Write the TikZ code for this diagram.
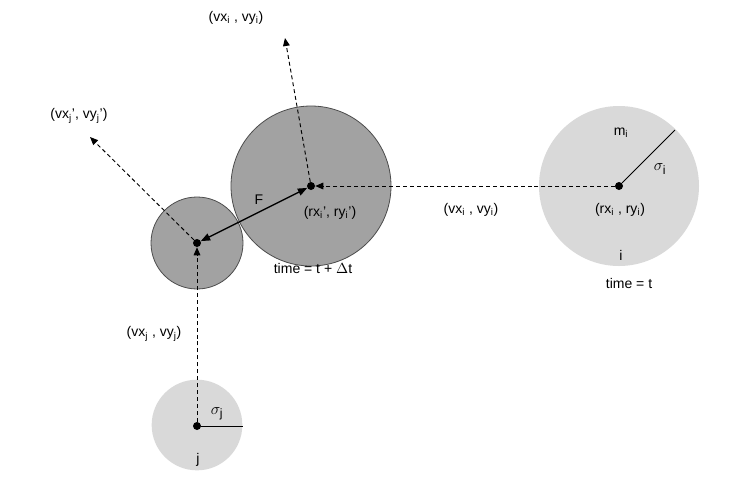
\documentclass[tikz,border=0pt]{standalone}
\usepackage{fontspec}
\setmainfont{Liberation Sans}
\usetikzlibrary{arrows.meta}
\definecolor{lightgrey}{HTML}{D9D9D9}
\definecolor{darkgrey}{HTML}{A2A2A2}
\begin{document}
\begin{tikzpicture}[x=0.75pt,y=-0.75pt,
  lbl/.style={font=\fontsize{10.5}{12}\selectfont, inner sep=0pt},
  sig/.style={font=\fontsize{13}{14}\selectfont, inner sep=0pt},
  dot/.style={circle, fill=black, inner sep=0pt, minimum size=6pt},
  lightball/.style={circle, fill=lightgrey, inner sep=0pt},
  darkball/.style={circle, fill=darkgrey, draw=black!70, line width=0.6pt, inner sep=0pt},
  vel/.style={line width=0.7pt, dash pattern=on 3pt off 2.2pt, -{Triangle[length=6pt,width=5pt]}},
  force/.style={line width=1pt, {Triangle[length=7pt,width=5.5pt]}-{Triangle[length=7pt,width=5.5pt]}},
  radius/.style={line width=0.7pt}
]
\useasboundingbox (0,0) rectangle (750,480);
\fill[white] (0,0) rectangle (750,480);
% balls
\node[lightball, minimum size=120pt] (bi) at (619,186) {};
\node[lightball, minimum size=68pt] (bj) at (197,425) {};
\node[darkball, minimum size=120pt] (bip) at (311,186) {};
\node[darkball, minimum size=69pt] (bjp) at (197,243) {};
% centres
\node[dot] (pi) at (619,186) {};
\node[dot] (pj) at (197,426) {};
\node[dot] (pip) at (311,186) {};
\node[dot] (pjp) at (197,243) {};
% free ends
\coordinate (ri) at (675,130);
\coordinate (rj) at (243,426);
\coordinate (vi) at (285,38);
\coordinate (vj) at (90,137);
% connectors
\draw[radius] (pi) -- (ri);
\draw[radius] (pj) -- (rj);
\draw[vel] (pi) -- (pip);
\draw[vel] (pj) -- (pjp);
\draw[vel] (pip) -- (vi);
\draw[vel] (pjp) -- (vj);
\draw[force] (pjp) -- (pip);
% labels
\node[lbl] (lvi) at (236,18) {(vx\textsubscript{i} , vy\textsubscript{i})};
\node[lbl] (lvj) at (79,116) {(vx\textsubscript{j}', vy\textsubscript{j}')};
\node[lbl] (lf) at (259,200) {F};
\node[lbl] (lrip) at (330,213) {(rx\textsubscript{i}', ry\textsubscript{i}')};
\node[lbl] (lvi2) at (471,210) {(vx\textsubscript{i} , vy\textsubscript{i})};
\node[lbl] (ltdt) at (313,268) {time = t + \(\Delta\)t};
\node[lbl] (lmi) at (621,133) {m\textsubscript{i}};
\node[sig] (lsi) at (660,169) {$\sigma_{\mathrm{i}}$};
\node[lbl] (lri) at (620,210) {(rx\textsubscript{i} , ry\textsubscript{i})};
\node[lbl] (li) at (621,255) {i};
\node[lbl] (lt) at (629,283) {time = t};
\node[lbl] (lvj2) at (154,334) {(vx\textsubscript{j} , vy\textsubscript{j})};
\node[sig] (lsj) at (217,414) {$\sigma_{\mathrm{j}}$};
\node[lbl] (lj) at (198,460) {j};
\end{tikzpicture}
\end{document}
